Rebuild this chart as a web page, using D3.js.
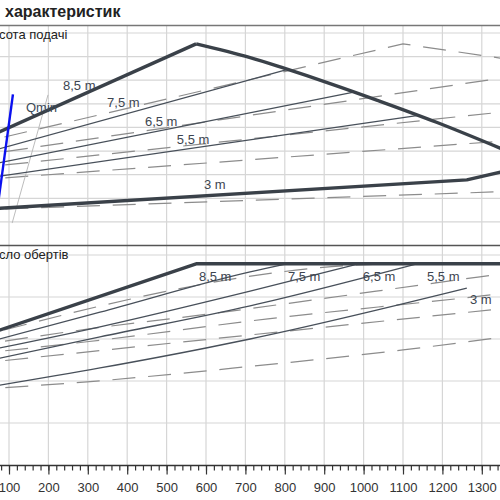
<!DOCTYPE html>
<html>
<head>
<meta charset="utf-8">
<script src="https://cdn.jsdelivr.net/npm/d3@7/dist/d3.min.js"></script>
<style>
  body { margin: 0; background: #fff; }
  svg { display: block; font-family: "Liberation Sans", Arial, sans-serif; }
</style>
</head>
<body>
<svg id="chart" width="500" height="500"></svg>
<script>
// Flow axis (m3/h) and grid steps
const flowTicks = [100, 200, 300, 400, 500, 600, 700, 800, 900, 1000, 1100, 1200, 1300];
const flowMinorTicks = d3.range(80, 1341, 20);
const headGrid = [1, 2, 3, 4, 5, 6, 7, 8, 9];
const speedGrid = [1, 2, 3, 4, 5];

// Set points shown on the curves
const setPoints = ['8,5 m', '7,5 m', '6,5 m', '5,5 m', '3 m'];

// Head curves, solid pump: [flow, head]
const headMax = [[0, 4.25], [575, 8.54], [710, 7.97], [800, 7.5], [915, 6.86], [1035, 6.15], [1185, 5.22], [1350, 4.1]];
const head75 = [[0, 3.75], [805, 7.45]];
const head65 = [[0, 3.25], [975, 6.5]];
const head55 = [[0, 2.75], [1135, 5.5]];
const head3 = [[0, 1.5], [1262, 2.78], [1350, 3.12]];

// Head curves, dashed pump
const headMaxAlt = [[0, 4.25], [1100, 8.54], [1350, 7.93]];
const head75Alt = [[0, 3.75], [1350, 7.09]];
const head65Alt = [[0, 3.25], [1350, 5.65]];
const head55Alt = [[0, 2.75], [1350, 4.42]];
const head3Alt = [[0, 1.5], [1350, 2.28]];

// Qmin marker and its guide line
const qminLine = [[110, 6.4], [66, 1.0]];
const qminGuide = [[199, 6.38], [108, 0.95]];

// Speed curves, solid pump: [flow, speed]
const speedMax = [[0, 2.97], [575, 4.79], [1350, 4.79]];
const speed75 = [[0, 2.81], [331, 3.64], [712, 4.6], [805, 4.79]];
const speed65 = [[0, 2.64], [331, 3.29], [712, 4.14], [987, 4.79]];
const speed55 = [[0, 2.39], [331, 3.05], [712, 3.79], [1135, 4.79]];
const speed3 = [[0, 1.78], [331, 2.31], [597, 2.78], [712, 3.0], [1262, 4.21]];

// Speed curves, dashed pump
const speedMaxAlt = [[0, 3.0], [1100, 4.79], [1350, 4.79]];
const speed75Alt = [[0, 2.82], [303, 3.24], [569, 3.55], [1295, 4.48], [1350, 4.55]];
const speed65Alt = [[0, 2.63], [303, 2.94], [757, 3.48], [1295, 4.02], [1350, 4.08]];
const speed55Alt = [[0, 2.4], [1350, 3.72]];
const speed3Alt = [[0, 1.79], [298, 1.98], [694, 2.33], [1100, 2.74], [1350, 3.04]];

const W = 500, H = 500;
const GRID = '#d6d6d6', DARK = '#3a4149', THIN = '#48505a', DASH = '#8c8c8c';

const svg = d3.select('#chart');

const x = d3.scaleLinear().domain([100, 1300]).range([9, 481.8]);
const yHead = d3.scaleLinear().domain([0, 9]).range([245.5, 33]);
const ySpeed = d3.scaleLinear().domain([0, 5]).range([465, 255]);

// clip areas for both panels
const defs = svg.append('defs');
defs.append('clipPath').attr('id', 'clip-top')
  .append('rect').attr('x', 0).attr('y', 26).attr('width', W).attr('height', 219);
defs.append('clipPath').attr('id', 'clip-bottom')
  .append('rect').attr('x', 0).attr('y', 246).attr('width', W).attr('height', 219);

// Grid
const grid = svg.append('g').attr('class', 'grid')
  .attr('stroke', GRID).attr('stroke-width', 1.2);
grid.selectAll('line.v')
  .data(flowTicks)
  .enter()
  .append('line')
  .attr('class', 'v')
  .attr('x1', d => x(d)).attr('x2', d => x(d))
  .attr('y1', 25).attr('y2', 465);
grid.selectAll('line.h')
  .data(headGrid)
  .enter()
  .append('line')
  .attr('class', 'h')
  .attr('x1', 0).attr('x2', W)
  .attr('y1', d => yHead(d)).attr('y2', d => yHead(d));
grid.selectAll('line.s')
  .data(speedGrid)
  .enter()
  .append('line')
  .attr('class', 's')
  .attr('x1', 0).attr('x2', W)
  .attr('y1', d => ySpeed(d)).attr('y2', d => ySpeed(d));

// Panel frame lines
svg.append('line')
  .attr('x1', 0).attr('x2', W).attr('y1', 25.5).attr('y2', 25.5)
  .attr('stroke', '#777').attr('stroke-width', 1.5);
svg.append('line')
  .attr('x1', 0).attr('x2', W).attr('y1', yHead(0)).attr('y2', yHead(0))
  .attr('stroke', '#555').attr('stroke-width', 1.5);

// Helper to draw one curve
function drawCurve(layer, yScale, pts, style) {
  const line = d3.line()
    .x(d => x(d[0]))
    .y(d => yScale(d[1]))
    .curve(style.curve || d3.curveLinear);
  layer.append('path')
    .datum(pts)
    .attr('fill', 'none')
    .attr('stroke', style.color)
    .attr('stroke-width', style.width)
    .attr('stroke-dasharray', style.dash || null)
    .attr('stroke-linejoin', 'round')
    .attr('d', line);
}

const dashed = { color: DASH, width: 1.2, dash: '23,12.8' };
const thin = { color: THIN, width: 1.3 };
const thick = { color: DARK, width: 3.4 };
const smooth = d3.curveMonotoneX;

// Top panel: head
const headLayer = svg.append('g').attr('clip-path', 'url(#clip-top)');
[headMaxAlt, head75Alt, head65Alt, head55Alt, head3Alt]
  .forEach(c => drawCurve(headLayer, yHead, c, dashed));
drawCurve(headLayer, yHead, qminGuide, { color: '#b4b4b4', width: 0.9 });
[head75, head65, head55].forEach(c => drawCurve(headLayer, yHead, c, thin));
// max curve: straight rise to the peak, smooth fall after it
drawCurve(headLayer, yHead, headMax.slice(0, 2), thick);
drawCurve(headLayer, yHead, headMax.slice(1), Object.assign({ curve: d3.curveCatmullRom }, thick));
drawCurve(headLayer, yHead, head3, thick);
drawCurve(headLayer, yHead, qminLine, { color: '#0a10f0', width: 2.4 });

// Bottom panel: speed
const speedLayer = svg.append('g').attr('clip-path', 'url(#clip-bottom)');
[speedMaxAlt, speed75Alt, speed65Alt, speed55Alt, speed3Alt]
  .forEach(c => drawCurve(speedLayer, ySpeed, c, Object.assign({ curve: smooth }, dashed)));
[speed75, speed65, speed55, speed3]
  .forEach(c => drawCurve(speedLayer, ySpeed, c, Object.assign({ curve: smooth }, thin)));
drawCurve(speedLayer, ySpeed, speedMax, thick);

// Curve labels (anchored in chart units)
const headLabelAt = [[237, 6.59], [349, 5.87], [445, 5.08], [526, 4.32], [595, 2.39]];
const speedLabelAt = [[582, 4.38], [808, 4.38], [998, 4.38], [1161, 4.38], [1270, 3.83]];

const labelFont = g => g.attr('font-size', 13).attr('fill', '#3d4550');
svg.append('g').call(labelFont)
  .selectAll('text')
  .data(setPoints)
  .enter()
  .append('text')
  .attr('x', (d, i) => x(headLabelAt[i][0]))
  .attr('y', (d, i) => yHead(headLabelAt[i][1]))
  .text(d => d);
svg.append('g').call(labelFont)
  .selectAll('text')
  .data(setPoints)
  .enter()
  .append('text')
  .attr('x', (d, i) => x(speedLabelAt[i][0]))
  .attr('y', (d, i) => ySpeed(speedLabelAt[i][1]))
  .text(d => d);

svg.append('text')
  .attr('x', 26).attr('y', 112)
  .attr('font-size', 13).attr('fill', '#3d4a58')
  .text('Qmin');

// Titles (cut off at the left like the source)
svg.append('text')
  .attr('x', 5).attr('y', 17)
  .attr('font-size', 16).attr('font-weight', 'bold').attr('fill', '#222')
  .text('характеристик');
svg.append('text')
  .attr('x', -1).attr('y', 38.5)
  .attr('font-size', 13).attr('fill', '#222')
  .text('сота подачі');
svg.append('text')
  .attr('x', -1).attr('y', 259)
  .attr('font-size', 13).attr('fill', '#222')
  .text('сло обертів');

// Flow axis
const axisG = svg.append('g').attr('transform', 'translate(0,465.5)');
axisG.append('g')
  .call(d3.axisBottom(x).tickValues(flowMinorTicks).tickSize(5).tickSizeOuter(0).tickFormat(''))
  .call(g => g.select('.domain').remove());
axisG.append('g')
  .call(d3.axisBottom(x).tickValues(flowTicks).tickSize(9).tickSizeOuter(0).tickPadding(8).tickFormat(d3.format('d')))
  .call(g => g.select('.domain').remove())
  .call(g => g.selectAll('text').attr('font-size', 13).attr('fill', '#333')
    .attr('font-family', '"Liberation Sans", Arial, sans-serif'));
axisG.selectAll('.tick line').attr('stroke', '#333').attr('stroke-width', 1.2);
axisG.append('line')
  .attr('x1', 0).attr('x2', W)
  .attr('stroke', '#333').attr('stroke-width', 1.5);
</script>
</body>
</html>
